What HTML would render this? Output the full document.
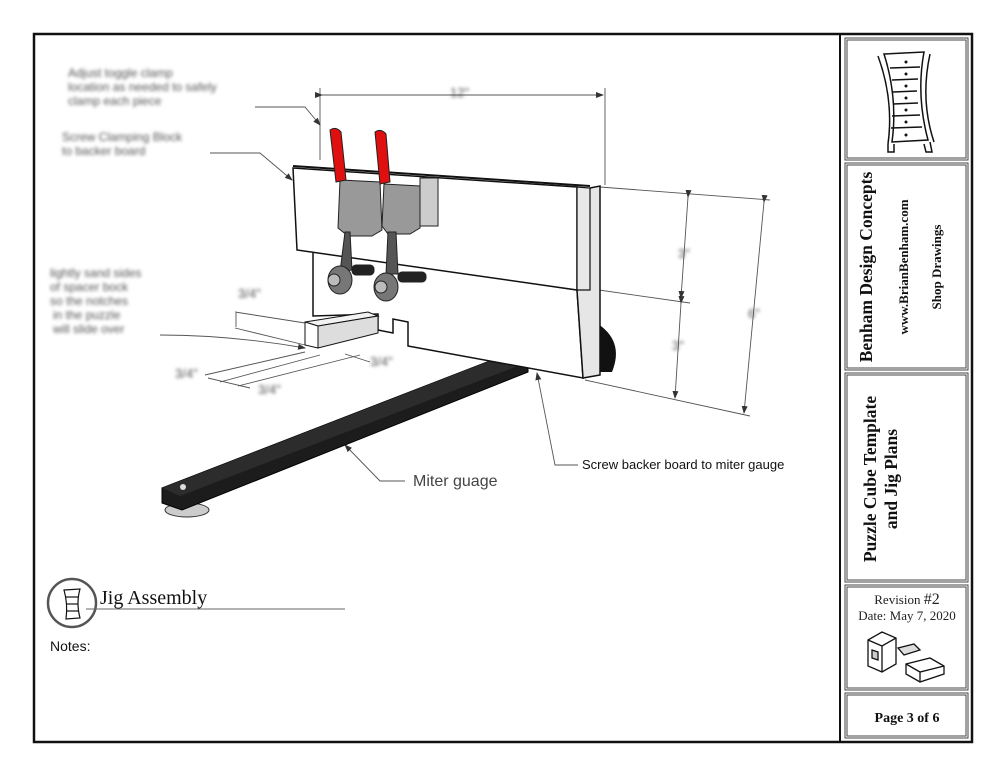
<!DOCTYPE html>
<html><head><meta charset="utf-8"><style>
html,body{margin:0;padding:0;background:#fff;}
svg{display:block}
</style></head><body>
<svg width="1005" height="776" viewBox="0 0 1005 776" xmlns="http://www.w3.org/2000/svg">
<defs>
<filter id="bl" x="-20%" y="-50%" width="140%" height="200%"><feGaussianBlur stdDeviation="1.5"/></filter>
<marker id="ar" markerWidth="8" markerHeight="8" refX="7" refY="4" orient="auto" markerUnits="userSpaceOnUse"><path d="M0,1 L8,4 L0,7 Z" fill="#333"/></marker>
</defs>
<rect width="1005" height="776" fill="#fff"/>
<rect x="34" y="34" width="938" height="708" fill="none" stroke="#111" stroke-width="2.5"/>
<line x1="840" y1="34" x2="840" y2="742" stroke="#111" stroke-width="2"/>
<g fill="none" stroke="#444" stroke-width="1">
<rect x="845" y="38" width="123" height="122"/><rect x="847" y="40" width="119" height="118"/>
<rect x="845" y="163" width="123" height="207"/><rect x="847" y="165" width="119" height="203"/>
<rect x="845" y="373" width="123" height="209"/><rect x="847" y="375" width="119" height="205"/>
<rect x="845" y="585" width="123" height="105"/><rect x="847" y="587" width="119" height="101"/>
<rect x="845" y="693" width="123" height="45"/><rect x="847" y="695" width="119" height="41"/>
</g>
<g stroke="#111" stroke-width="1.5" fill="#fff">
<path d="M884,54 L924,52 Q916,95 928,140 L892,142 Q898,98 884,54 Z"/>
<path d="M878,56 Q894,100 888,144 M930,54 Q920,100 934,142"/>
<line x1="890" y1="68" x2="920" y2="67"/><line x1="892" y1="80" x2="918" y2="79"/>
<line x1="893" y1="92" x2="917" y2="91"/><line x1="893" y1="104" x2="918" y2="103"/>
<line x1="892" y1="116" x2="920" y2="115"/><line x1="891" y1="128" x2="922" y2="127"/>
<path d="M888,144 L888,152 L894,152 L894,144 M924,144 L926,152 L932,152 L930,142"/>
</g>
<g fill="#111"><circle cx="906" cy="62" r="1.5"/><circle cx="906" cy="74" r="1.5"/><circle cx="906" cy="86" r="1.5"/><circle cx="906" cy="98" r="1.5"/><circle cx="906" cy="110" r="1.5"/><circle cx="906" cy="122" r="1.5"/><circle cx="906" cy="135" r="1.5"/></g>
<g font-family="'Liberation Serif',serif" font-weight="bold" fill="#111" text-anchor="middle">
<text transform="translate(872,267) rotate(-90)" font-size="17.5">Benham Design Concepts</text>
<text transform="translate(908,267) rotate(-90)" font-size="13">www.BrianBenham.com</text>
<text transform="translate(941,267) rotate(-90)" font-size="13">Shop Drawings</text>
<text transform="translate(876,479) rotate(-90)" font-size="17.5">Puzzle Cube Template</text>
<text transform="translate(897,479) rotate(-90)" font-size="17.5">and Jig Plans</text>
<text x="907" y="722" font-size="14">Page 3 of 6</text>
</g>
<g font-family="'Liberation Serif',serif" fill="#222" text-anchor="middle" font-size="13">
<text x="907" y="604">Revision <tspan font-size="16">#2</tspan></text>
<text x="907" y="620">Date: May 7, 2020</text>
</g>
<g stroke="#111" stroke-width="1.3" fill="#fff">
<path d="M868,640 L882,632 L896,638 L896,664 L882,672 L868,666 Z"/>
<path d="M868,640 L882,646 L896,638 M882,646 L882,672" fill="none"/>
<path d="M872,650 L878,652 L878,660 L872,658 Z" fill="#ccc"/>
<path d="M898,648 L914,644 L920,650 L904,655 Z" fill="#ddd"/>
<path d="M906,664 L930,658 L944,666 L944,674 L920,682 L906,674 Z"/>
<path d="M906,664 L920,672 L944,666 M920,672 L920,682" fill="none"/>
</g>
<circle cx="72" cy="603" r="24" fill="#fff" stroke="#555" stroke-width="2.5"/>
<g stroke="#111" stroke-width="1.2" fill="none"><path d="M64,590 L80,589 Q76,603 80,618 L66,619 Q68,604 64,590 Z"/><line x1="66" y1="597" x2="78" y2="597"/><line x1="67" y1="604" x2="78" y2="604"/><line x1="67" y1="611" x2="79" y2="611"/></g>
<text x="100" y="604" font-family="'Liberation Serif',serif" font-size="20" fill="#111">Jig Assembly</text>
<line x1="86" y1="609" x2="345" y2="609" stroke="#666" stroke-width="1"/>
<text x="50" y="651" font-family="'Liberation Sans',sans-serif" font-size="14" fill="#111">Notes:</text>

<g stroke="#555" stroke-width="0.9" fill="none">
<line x1="320" y1="88" x2="320" y2="160"/><line x1="605" y1="88" x2="605" y2="185"/>
<line x1="322" y1="95" x2="603" y2="95" marker-start="url(#ar)" marker-end="url(#ar)"/>
<line x1="600" y1="187" x2="770" y2="200"/><line x1="585" y1="288" x2="690" y2="303"/><line x1="585" y1="380" x2="750" y2="416"/>
<line x1="688" y1="197" x2="681" y2="298" marker-start="url(#ar)" marker-end="url(#ar)"/>
<line x1="681" y1="303" x2="675" y2="398" marker-start="url(#ar)" marker-end="url(#ar)"/>
<line x1="764" y1="202" x2="744" y2="413" marker-start="url(#ar)" marker-end="url(#ar)"/>
<polyline points="255,107 305,107 320,125" marker-end="url(#ar)"/>
<polyline points="210,153 260,153 292,180" marker-end="url(#ar)"/>
<path d="M160,335 Q230,335 305,348" marker-end="url(#ar)"/>
<line x1="235" y1="312" x2="305" y2="323"/><line x1="235" y1="328" x2="305" y2="345"/>
<line x1="236" y1="313" x2="236" y2="327"/>
<line x1="205" y1="375" x2="305" y2="352"/><line x1="220" y1="382" x2="320" y2="355"/><line x1="238" y1="386" x2="360" y2="355"/>
<line x1="208" y1="378" x2="250" y2="388"/>
<line x1="345" y1="354" x2="370" y2="362"/>
<line x1="408" y1="322" x2="450" y2="330"/><line x1="446" y1="328" x2="446" y2="346"/>
<polyline points="405,481 380,481 345,445" marker-end="url(#ar)"/>
<polyline points="578,465 555,465 537,373" marker-end="url(#ar)"/>
</g>
<g font-family="'Liberation Sans',sans-serif" font-size="12" fill="#555" filter="url(#bl)">
<text x="68" y="77">Adjust toggle clamp</text><text x="68" y="91">location as needed to safely</text><text x="68" y="105">clamp each piece</text>
<text x="62" y="141">Screw Clamping Block</text><text x="62" y="155">to backer board</text>
<text x="50" y="277">lightly sand sides</text><text x="50" y="291">of spacer bock</text><text x="50" y="305">so the notches</text><text x="53" y="319">in the puzzle</text><text x="53" y="333">will slide over</text>
<text x="238" y="298" font-size="13">3/4"</text><text x="448" y="316" font-size="13">3/4"</text>
<text x="175" y="378" font-size="13">3/4"</text><text x="258" y="394" font-size="13">3/4"</text><text x="370" y="366" font-size="13">3/4"</text>
<text x="450" y="97" font-size="13">12"</text><text x="678" y="258" font-size="13">3"</text><text x="672" y="350" font-size="13">3"</text><text x="748" y="318" font-size="13">6"</text>
</g>
<path d="M595,322 Q625,340 612,372 L598,372 Z" fill="#111"/>
<ellipse cx="187" cy="510" rx="22" ry="7" fill="#ccc" stroke="#333"/>
<polygon points="162,488 505,355 528,362 528,372 182,510 162,503" fill="#1c1c1c" stroke="#000"/>
<polygon points="162,488 505,355 528,362 180,496" fill="#2c2c2c"/>
<circle cx="183" cy="487" r="3" fill="#ddd"/>
<polygon points="313,250 577,290 583,378 408,346 408,322 393,319 393,333 378,330 378,314 313,316" fill="#fff" stroke="#111" stroke-width="1.5"/>
<polygon points="583,378 600,375 600,186 590,188 577,290" fill="#e6e6e6" stroke="#111" stroke-width="1.5"/>
<polygon points="293,168 577,187 577,290 297,250" fill="#fff" stroke="#111" stroke-width="1.5"/>
<polygon points="577,187 590,188 590,290 577,290" fill="#e8e8e8" stroke="#111" stroke-width="1.2"/>
<line x1="293" y1="166" x2="590" y2="186" stroke="#111" stroke-width="2"/>
<polygon points="305,322 368,312 378,316 318,326" fill="#f2f2f2" stroke="#111"/>
<polygon points="305,322 318,326 318,348 305,345" fill="#fff" stroke="#111"/>
<polygon points="318,326 378,316 378,333 318,348" fill="#ddd" stroke="#111"/>
<g stroke="#222" stroke-width="1">
<rect x="420" y="178" width="18" height="48" fill="#ccc"/>
<path d="M340,180 L380,182 L382,230 L372,236 L348,236 L338,228 Z" fill="#999"/>
<path d="M384,184 L420,186 L420,228 L410,234 L388,234 L382,226 Z" fill="#999"/>
<path d="M345,232 L350,232 L352,270 L340,272 Z" fill="#555"/>
<path d="M388,232 L396,232 L398,274 L386,274 Z" fill="#555"/>
<ellipse cx="340" cy="280" rx="12" ry="14" fill="#777"/>
<ellipse cx="386" cy="287" rx="12" ry="14" fill="#777"/>
<rect x="352" y="265" width="22" height="10" rx="4" fill="#222"/>
<rect x="398" y="272" width="28" height="10" rx="4" fill="#222"/>
<circle cx="334" cy="280" r="6" fill="#bbb"/><circle cx="381" cy="287" r="6" fill="#bbb"/>
<path d="M330,130 Q336,126 341,132 L346,180 L336,182 Z" fill="#e01010"/>
<path d="M375,132 Q381,128 386,134 L390,182 L380,184 Z" fill="#e01010"/>
</g>
<text x="413" y="486" font-family="'Liberation Sans',sans-serif" font-size="16" fill="#444">Miter guage</text>
<text x="582" y="469" font-family="'Liberation Sans',sans-serif" font-size="13" fill="#111">Screw backer board to miter gauge</text>
</svg>
</body></html>
